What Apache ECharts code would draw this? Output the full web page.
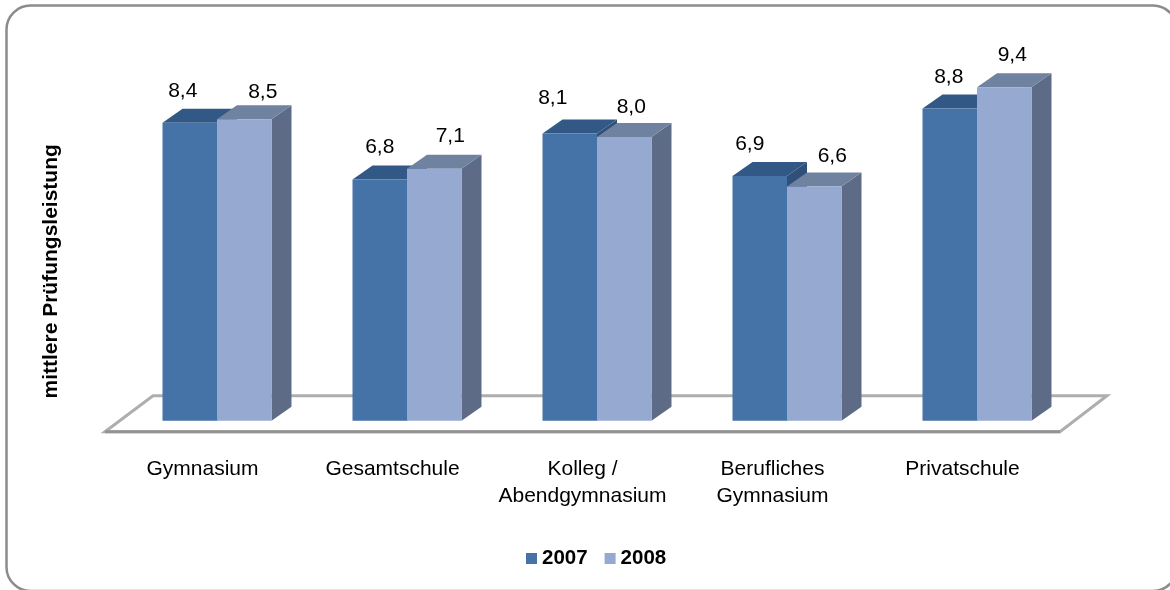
<!DOCTYPE html>
<html><head><meta charset="utf-8">
<style>html,body{margin:0;padding:0;background:#fff}#c{width:1170px;height:590px}</style>
<script src="https://cdn.jsdelivr.net/npm/echarts@6/dist/echarts.min.js"></script>
</head><body><div id="c"></div>
<script>
const categories = ['Gymnasium', 'Gesamtschule', 'Kolleg /\nAbendgymnasium', 'Berufliches\nGymnasium', 'Privatschule'];
const seriesNames = ['2007', '2008'];
const values2007 = [8.4, 6.8, 8.1, 6.9, 8.8];
const values2008 = [8.5, 7.1, 8.0, 6.6, 9.4];

const FONT = '"Liberation Sans", Arial, sans-serif';
const DEPTH_X = 20, DEPTH_Y = 14, BAR_FRACTION = 0.2868;
const styles2007 = {front: '#4572a7', top: '#325985', side: '#2f5179'};
const styles2008 = {front: '#95a9d1', top: '#6f82a0', side: '#5d6b87'};
// hand-placed label nudges, as in the source chart
const nudges2007 = [[-7, -32], [0, -32], [-17, -35], [-10, -32], [-1, -31]];
const nudges2008 = [[18.5, -27], [16, -33], [7, -30], [18, -30], [8, -32]];

function bar3d(slot, st, nudges) {
  return function (params, api) {
    const i = api.value(0), v = api.value(1);
    const top = api.coord([i, v]), base = api.coord([i, 0]);
    const w = api.size([1, 0])[0] * BAR_FRACTION;
    const x0 = top[0] + (slot === 0 ? -w : 0), x1 = x0 + w;
    const poly = (points, fill) => ({type: 'polygon', shape: {points}, style: {fill}});
    return {type: 'group', children: [
      poly([[x1, top[1]], [x1 + DEPTH_X, top[1] - DEPTH_Y], [x1 + DEPTH_X, base[1] - DEPTH_Y], [x1, base[1]]], st.side),
      poly([[x0, top[1]], [x0 + DEPTH_X, top[1] - DEPTH_Y], [x1 + DEPTH_X, top[1] - DEPTH_Y], [x1, top[1]]], st.top),
      {type: 'rect', shape: {x: x0, y: top[1], width: w, height: base[1] - top[1]}, style: {fill: st.front}},
      {type: 'text', x: (x0 + x1) / 2 + nudges[i][0], y: top[1] + nudges[i][1],
       style: {text: v.toFixed(1).replace('.', ','), fill: '#000', font: '21px ' + FONT, align: 'center', verticalAlign: 'middle'}}
    ]};
  };
}
function floor(params, api) {
  const half = api.size([1, 0])[0] / 2;
  const a = api.coord([0, 0]), b = api.coord([categories.length - 1, 0]);
  const left = a[0] - half, right = b[0] + half;
  const fy = a[1] + 11, by = a[1] - 25;
  return {type: 'group', children: [
    {type: 'polygon', shape: {points: [[left - 17, fy], [left + 31, by], [right + 35, by], [right - 12, fy]]},
     style: {fill: '#fff', stroke: '#aeaeae', lineWidth: 3, lineJoin: 'miter'}},
    {type: 'line', shape: {x1: left - 17, y1: fy, x2: right - 12, y2: fy}, style: {stroke: '#939393', lineWidth: 3}}
  ]};
}
const chart = echarts.init(document.getElementById('c'), null, {renderer: 'canvas'});
chart.setOption({
  animation: false,
  backgroundColor: '#fff',
  textStyle: {fontFamily: FONT},
  graphic: [{type: 'rect', z: 0, shape: {x: 6.5, y: 5.5, width: 1170.5, height: 585.5, r: 24},
             style: {fill: '#fff', stroke: '#8c8c8c', lineWidth: 2.5}}],
  grid: {left: 122, top: 66, width: 950, height: 354.7},
  legend: {
    data: seriesNames, left: 526, top: 548, padding: 0, itemWidth: 11, itemHeight: 11, itemGap: 17, icon: 'rect',
    textStyle: {fontSize: 20.5, fontWeight: 'bold', color: '#000', fontFamily: FONT}
  },
  xAxis: {
    type: 'category', data: categories,
    axisLine: {show: false}, axisTick: {show: false},
    axisLabel: {margin: 35, fontSize: 21, color: '#000', lineHeight: 27, fontFamily: FONT, interval: 0, padding: [0, 29, 0, 0]}
  },
  yAxis: {
    type: 'value', min: 0, max: 10, interval: 2, splitLine: {show: false},
    axisLine: {show: false}, axisTick: {show: false}, axisLabel: {show: false},
    name: 'mittlere Prüfungsleistung', nameLocation: 'middle', nameGap: 60, nameRotate: 90,
    nameTextStyle: {fontSize: 21, fontWeight: 'bold', color: '#000', fontFamily: FONT, padding: [0, 56, 0, 0]}
  },
  series: [
    {type: 'custom', silent: true, legendHoverLink: false, z: 1, data: [0], renderItem: floor, encode: {x: 0}, tooltip: {show: false}},
    {type: 'custom', name: seriesNames[0], itemStyle: {color: styles2007.front}, z: 2,
     data: values2007.map((v, i) => [i, v]), encode: {x: 0, y: 1}, renderItem: bar3d(0, styles2007, nudges2007)},
    {type: 'custom', name: seriesNames[1], itemStyle: {color: styles2008.front}, z: 3,
     data: values2008.map((v, i) => [i, v]), encode: {x: 0, y: 1}, renderItem: bar3d(1, styles2008, nudges2008)}
  ]
});
</script></body></html>
